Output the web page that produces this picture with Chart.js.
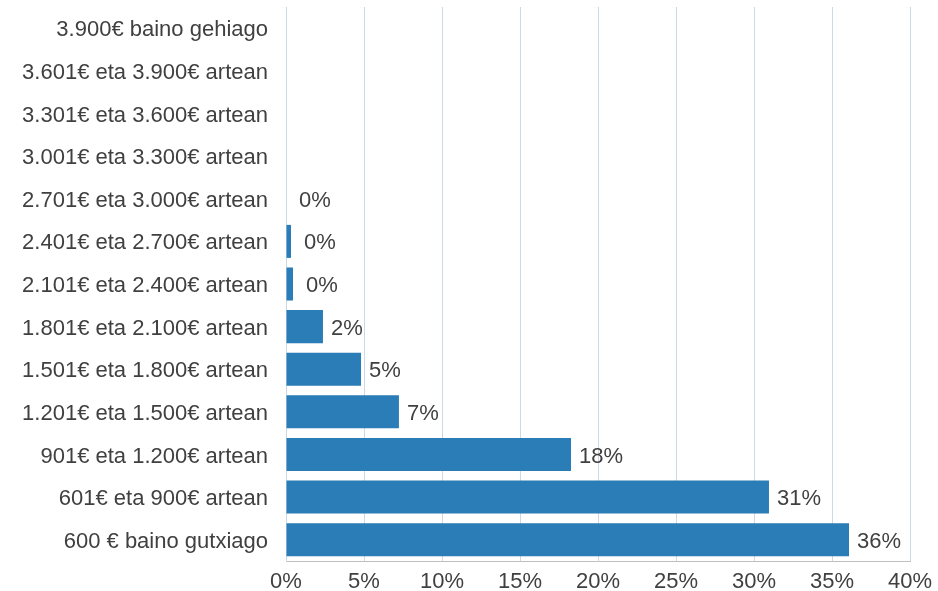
<!DOCTYPE html>
<html>
<head>
<meta charset="utf-8">
<script src="https://cdn.jsdelivr.net/npm/chart.js@4/dist/chart.umd.min.js"></script>
<style>
html,body{margin:0;padding:0;background:#fff;overflow:hidden;}
#wrap{width:938px;height:591px;}
</style>
</head>
<body>
<div id="wrap"><canvas id="c" width="938" height="591" style="display:block"></canvas></div>
<script>
const categories = [
  "3.900€ baino gehiago",
  "3.601€ eta 3.900€ artean",
  "3.301€ eta 3.600€ artean",
  "3.001€ eta 3.300€ artean",
  "2.701€ eta 3.000€ artean",
  "2.401€ eta 2.700€ artean",
  "2.101€ eta 2.400€ artean",
  "1.801€ eta 2.100€ artean",
  "1.501€ eta 1.800€ artean",
  "1.201€ eta 1.500€ artean",
  "901€ eta 1.200€ artean",
  "601€ eta 900€ artean",
  "600 € baino gutxiago"
];
const values = [null, null, null, null, 0.0, 0.32, 0.45, 2.37, 4.81, 7.24, 18.27, 30.96, 36.09];
const xTicks = [0, 5, 10, 15, 20, 25, 30, 35, 40];

const FONT = "'Liberation Sans', Arial, sans-serif";
const TEXT = "#404040";

const labelPlugin = {
  id: 'valueLabels',
  afterDatasetsDraw(chart) {
    const ctx = chart.ctx;
    const meta = chart.getDatasetMeta(0);
    ctx.save();
    ctx.font = "22px " + FONT;
    ctx.fillStyle = TEXT;
    ctx.textAlign = 'left';
    ctx.textBaseline = 'middle';
    meta.data.forEach((bar, i) => {
      const v = values[i];
      if (v === null || v === undefined) return;
      const gap = bar.x - chart.chartArea.left < 10 ? 13 : 8;
      ctx.fillText(Math.round(v) + '%', bar.x + gap, bar.y + 2);
    });
    ctx.restore();
  }
};

new Chart(document.getElementById('c'), {
  type: 'bar',
  data: {
    labels: categories,
    datasets: [{
      data: values,
      backgroundColor: '#2a7db6',
      barPercentage: 0.775,
      categoryPercentage: 1.0
    }]
  },
  options: {
    indexAxis: 'y',
    responsive: false,
    animation: false,
    layout: { padding: { top: 7, right: 28, left: 0, bottom: 0 } },
    plugins: { legend: { display: false }, tooltip: { enabled: false } },
    scales: {
      x: {
        min: 0, max: 40,
        afterBuildTicks(axis) { axis.ticks = xTicks.map(v => ({ value: v })); },
        afterFit(axis) { axis.height = 30; axis.paddingLeft = 0; axis.paddingRight = 0; },
        ticks: {
          callback: v => v + '%',
          color: TEXT,
          font: { family: FONT, size: 22 },
          padding: 8,
          maxRotation: 0
        },
        grid: { color: '#ccd8e4', lineWidth: 1, drawTicks: false },
        border: { display: true, color: '#bfbfbf', width: 1 }
      },
      y: {
        afterFit(axis) { axis.width = 286; axis.paddingTop = 0; axis.paddingBottom = 0; },
        ticks: {
          color: TEXT,
          font: { family: FONT, size: 22 },
          padding: 18,
          labelOffset: 2,
          autoSkip: false
        },
        grid: { display: false, drawTicks: false },
        border: { display: true, color: '#ccd8e4', width: 1 }
      }
    }
  },
  plugins: [labelPlugin]
});
</script>
</body>
</html>
